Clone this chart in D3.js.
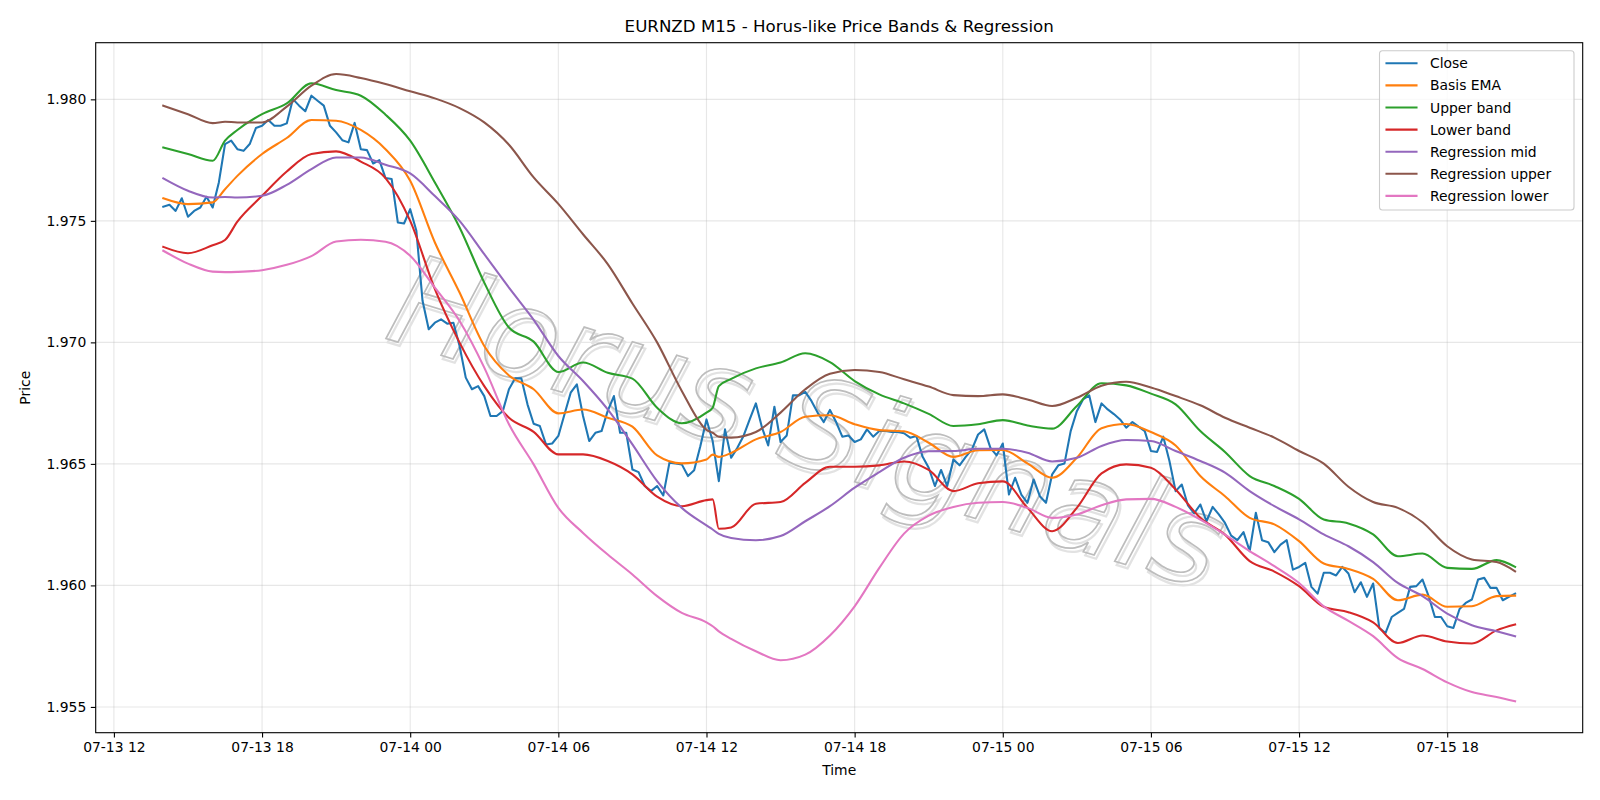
<!DOCTYPE html>
<html>
<head>
<meta charset="utf-8">
<title>EURNZD M15 - Horus-like Price Bands & Regression</title>
<script src="https://cdn.jsdelivr.net/npm/d3@7"></script>
<style>
  body { margin: 0; background: #fff; }
  svg text { font-family: "DejaVu Sans", sans-serif; }
</style>
</head>
<body>
<div id="chart"></div>
<script>
// ---- data ----
const startTime = Date.UTC(2025, 6, 13, 14, 0);   // 07-13 14:00, M15 bars
const barMinutes = 15;

const closeValues = [
  1.97558, 1.97566, 1.97541, 1.97593, 1.97517, 1.97541, 1.97555, 1.97599, 1.97555, 1.97658,
  1.97816, 1.97830, 1.97795, 1.97788, 1.97816, 1.97882, 1.97891, 1.97915, 1.97891, 1.97891,
  1.97901, 1.98001, 1.97974, 1.97951, 1.98015, 1.97994, 1.97974, 1.97891, 1.97864, 1.97832,
  1.97823, 1.97903, 1.97795, 1.97791, 1.97736, 1.97750, 1.97676, 1.97672, 1.97493, 1.97489,
  1.97548, 1.97459, 1.97171, 1.97054, 1.97081, 1.97095, 1.97077, 1.97081, 1.96985, 1.96855,
  1.96807, 1.96820, 1.96779, 1.96697, 1.96697, 1.96717, 1.96807, 1.96852, 1.96852, 1.96745,
  1.96665, 1.96656, 1.96580, 1.96584, 1.96615, 1.96704, 1.96793, 1.96827, 1.96697, 1.96594,
  1.96628, 1.96635, 1.96718, 1.96779, 1.96628, 1.96628, 1.96477, 1.96466, 1.96409, 1.96388,
  1.96409, 1.96370, 1.96505, 1.96502, 1.96498, 1.96450, 1.96474, 1.96573, 1.96683, 1.96594,
  1.96429, 1.96642, 1.96525, 1.96566, 1.96615, 1.96683, 1.96749, 1.96649, 1.96576, 1.96735,
  1.96590, 1.96617, 1.96782, 1.96782, 1.96796, 1.96759, 1.96711, 1.96672, 1.96722, 1.96672,
  1.96612, 1.96617, 1.96590, 1.96601, 1.96642, 1.96612, 1.96635, 1.96635, 1.96631, 1.96631,
  1.96626, 1.96608, 1.96615, 1.96530, 1.96484, 1.96409, 1.96475, 1.96409, 1.96518, 1.96494,
  1.96529, 1.96560, 1.96621, 1.96642, 1.96566, 1.96535, 1.96584, 1.96374, 1.96443, 1.96374,
  1.96340, 1.96436, 1.96367, 1.96340, 1.96457, 1.96494, 1.96502, 1.96635, 1.96717, 1.96765,
  1.96782, 1.96672, 1.96749, 1.96724, 1.96705, 1.96683, 1.96649, 1.96672, 1.96653, 1.96635,
  1.96553, 1.96549, 1.96612, 1.96512, 1.96388, 1.96415, 1.96329, 1.96296, 1.96333, 1.96264,
  1.96323, 1.96292, 1.96257, 1.96205, 1.96186, 1.96219, 1.96141, 1.96299, 1.96186, 1.96178,
  1.96137, 1.96168, 1.96186, 1.96065, 1.96076, 1.96093, 1.95994, 1.95966, 1.96052, 1.96052,
  1.96041, 1.96076, 1.96049, 1.95972, 1.96013, 1.95953, 1.96008, 1.95825, 1.95804, 1.95870,
  1.95887, 1.95903, 1.95994, 1.95997, 1.96024, 1.95955, 1.95870, 1.95870, 1.95832, 1.95825,
  1.95903, 1.95928, 1.95942, 1.96024, 1.96031, 1.95990, 1.95990, 1.95939, 1.95953, 1.95966
];

// smooth lines were read about once per hour (bar indices below), plus a few
// extra bars where the bands turn sharply
const bandBars = [
  0, 4, 8, 10, 12, 16, 20, 24, 28, 32, 36, 40, 44, 48, 52, 56, 60, 64, 68, 72,
  76, 80, 84, 88, 89, 90, 92, 96, 100, 104, 108, 112, 116, 120, 124, 128, 132, 136, 140, 144,
  148, 152, 156, 160, 164, 168, 172, 176, 180, 184, 188, 192, 196, 200, 204, 208, 212, 216, 219
];

const basisEma = [
  1.97593, 1.97569, 1.97576, 1.97630, 1.97685, 1.97775, 1.97841, 1.97915, 1.97912, 1.97874,
  1.97795, 1.97665, 1.97411, 1.97205, 1.96985, 1.96864, 1.96807, 1.96708, 1.96724, 1.96690,
  1.96653, 1.96535, 1.96502, 1.96518, 1.96538, 1.96529, 1.96545, 1.96601, 1.96631, 1.96694,
  1.96700, 1.96663, 1.96639, 1.96634, 1.96587, 1.96529, 1.96556, 1.96557, 1.96502, 1.96443,
  1.96525, 1.96647, 1.96664, 1.96631, 1.96576, 1.96450, 1.96367, 1.96278, 1.96251, 1.96182,
  1.96090, 1.96068, 1.96027, 1.95939, 1.95962, 1.95912, 1.95914, 1.95956, 1.95958
];
const upperBand = [
  1.97802, 1.97775, 1.97747, 1.97830, 1.97874, 1.97939, 1.97983, 1.98066, 1.98038, 1.98015,
  1.97937, 1.97830, 1.97658, 1.97473, 1.97246, 1.97061, 1.97003, 1.96878, 1.96917, 1.96875,
  1.96851, 1.96731, 1.96667, 1.96711, 1.96731, 1.96820, 1.96850, 1.96893, 1.96917, 1.96955,
  1.96919, 1.96841, 1.96786, 1.96749, 1.96706, 1.96656, 1.96663, 1.96680, 1.96658, 1.96645,
  1.96738, 1.96832, 1.96823, 1.96789, 1.96745, 1.96635, 1.96549, 1.96450, 1.96409, 1.96356,
  1.96271, 1.96255, 1.96210, 1.96120, 1.96131, 1.96072, 1.96068, 1.96104, 1.96076
];
const lowerBand = [
  1.97393, 1.97367, 1.97400, 1.97421, 1.97497, 1.97603, 1.97703, 1.97775, 1.97786, 1.97744,
  1.97676, 1.97500, 1.97219, 1.96999, 1.96820, 1.96690, 1.96632, 1.96539, 1.96539, 1.96512,
  1.96457, 1.96365, 1.96326, 1.96351, 1.96354, 1.96233, 1.96238, 1.96336, 1.96343, 1.96422,
  1.96488, 1.96488, 1.96494, 1.96510, 1.96475, 1.96388, 1.96420, 1.96428, 1.96319, 1.96223,
  1.96319, 1.96461, 1.96498, 1.96484, 1.96395, 1.96278, 1.96209, 1.96100, 1.96057, 1.95997,
  1.95912, 1.95890, 1.95848, 1.95763, 1.95794, 1.95769, 1.95761, 1.95815, 1.95839
];
const regressionMid = [
  1.97675, 1.97624, 1.97596, 1.97598, 1.97596, 1.97603, 1.97648, 1.97713, 1.97761, 1.97761,
  1.97731, 1.97695, 1.97602, 1.97500, 1.97363, 1.97225, 1.97093, 1.96944, 1.96841, 1.96724,
  1.96580, 1.96429, 1.96319, 1.96247, 1.96230, 1.96212, 1.96195, 1.96186, 1.96203, 1.96264,
  1.96326, 1.96402, 1.96466, 1.96525, 1.96552, 1.96553, 1.96562, 1.96562, 1.96546, 1.96510,
  1.96525, 1.96574, 1.96598, 1.96594, 1.96553, 1.96512, 1.96464, 1.96388, 1.96326, 1.96272,
  1.96210, 1.96161, 1.96096, 1.96010, 1.95956, 1.95884, 1.95836, 1.95811, 1.95791
];
const regressionUpper = [
  1.97974, 1.97939, 1.97902, 1.97908, 1.97905, 1.97905, 1.97970, 1.98056, 1.98104, 1.98088,
  1.98063, 1.98033, 1.98004, 1.97964, 1.97905, 1.97813, 1.97679, 1.97570, 1.97445, 1.97322,
  1.97160, 1.97000, 1.96800, 1.96640, 1.96628, 1.96612, 1.96608, 1.96631, 1.96711, 1.96807,
  1.96871, 1.96886, 1.96878, 1.96848, 1.96818, 1.96783, 1.96779, 1.96786, 1.96765, 1.96738,
  1.96772, 1.96822, 1.96838, 1.96814, 1.96779, 1.96741, 1.96690, 1.96649, 1.96608, 1.96553,
  1.96501, 1.96406, 1.96343, 1.96319, 1.96260, 1.96161, 1.96107, 1.96096, 1.96058
];
const regressionLower = [
  1.97377, 1.97324, 1.97291, 1.97289, 1.97290, 1.97297, 1.97319, 1.97355, 1.97415, 1.97422,
  1.97414, 1.97356, 1.97225, 1.97088, 1.96896, 1.96663, 1.96498, 1.96319, 1.96216, 1.96127,
  1.96045, 1.95956, 1.95887, 1.95848, 1.95832, 1.95811, 1.95780, 1.95729, 1.95692, 1.95715,
  1.95794, 1.95914, 1.96072, 1.96213, 1.96287, 1.96323, 1.96340, 1.96343, 1.96319, 1.96278,
  1.96292, 1.96330, 1.96354, 1.96356, 1.96323, 1.96271, 1.96209, 1.96141, 1.96079, 1.96010,
  1.95914, 1.95854, 1.95791, 1.95701, 1.95656, 1.95601, 1.95561, 1.95541, 1.95523
];

const yTickValues = [1.955, 1.960, 1.965, 1.970, 1.975, 1.980];
const chartTitle = 'EURNZD M15 - Horus-like Price Bands & Regression';
const watermarkText = 'Horus Signals';

// ---- layout (matplotlib-like figure, 1600x800) ----
const config = {
  width: 1600,
  height: 800,
  axLeft: 95.7,
  axRight: 1582.7,
  axTop: 42.7,
  axBottom: 732.7,
  fontSize: 13.9,
  lineWidth: 2.08
};

const barTime = i => new Date(startTime + i * barMinutes * 60000);

const series = [
  {name: 'Close', color: '#1f77b4', points: closeValues.map((v, i) => ({t: barTime(i), v})), smooth: false},
  {name: 'Basis EMA', color: '#ff7f0e', values: basisEma},
  {name: 'Upper band', color: '#2ca02c', values: upperBand},
  {name: 'Lower band', color: '#d62728', values: lowerBand},
  {name: 'Regression mid', color: '#9467bd', values: regressionMid},
  {name: 'Regression upper', color: '#8c564b', values: regressionUpper},
  {name: 'Regression lower', color: '#e377c2', values: regressionLower}
];
series.forEach(s => {
  if (!s.points) {
    s.points = s.values.map((v, k) => ({t: barTime(bandBars[k]), v}));
    s.smooth = true;
  }
});

const svg = d3.select('#chart').append('svg')
    .attr('width', config.width)
    .attr('height', config.height);

// 5% margins like matplotlib autoscale
const t0 = barTime(0), t1 = barTime(closeValues.length - 1);
const tPad = (t1 - t0) * 0.05;
const allValues = series.flatMap(s => s.points.map(p => p.v));
const [vMin, vMax] = d3.extent(allValues);
const vPad = (vMax - vMin) * 0.05;

const x = d3.scaleUtc()
    .domain([new Date(+t0 - tPad), new Date(+t1 + tPad)])
    .range([config.axLeft, config.axRight]);
const y = d3.scaleLinear()
    .domain([vMin - vPad, vMax + vPad])
    .range([config.axBottom, config.axTop]);

const xTicks = x.ticks(d3.utcHour.every(6));

// grid
const grid = svg.append('g').attr('class', 'grid')
    .attr('stroke', '#b0b0b0').attr('stroke-opacity', 0.3).attr('stroke-width', 1.1);
grid.selectAll('.gx').data(xTicks).join('line')
    .attr('x1', d => x(d)).attr('x2', d => x(d))
    .attr('y1', config.axTop).attr('y2', config.axBottom);
grid.selectAll('.gy').data(yTickValues).join('line')
    .attr('y1', d => y(d)).attr('y2', d => y(d))
    .attr('x1', config.axLeft).attr('x2', config.axRight);

// watermark: outlined italic letters with a soft offset copy
const wm = svg.append('g')
    .attr('transform', 'translate(808,420) rotate(17)')
    .attr('font-size', 126)
    .attr('font-style', 'italic')
    .attr('text-anchor', 'middle')
    .attr('fill', 'none');
wm.append('text').attr('dx', 3).attr('dy', 3).attr('y', '0.36em')
    .attr('stroke', '#e2e2e2').attr('stroke-width', 2.2)
    .text(watermarkText);
wm.append('text').attr('y', '0.36em')
    .attr('stroke', '#bdbdbd').attr('stroke-width', 1.7)
    .text(watermarkText);

// lines
svg.append('clipPath').attr('id', 'ax-clip').append('rect')
    .attr('x', config.axLeft).attr('y', config.axTop)
    .attr('width', config.axRight - config.axLeft).attr('height', config.axBottom - config.axTop);

const plot = svg.append('g').attr('clip-path', 'url(#ax-clip)');
const rawLine = d3.line().x(d => x(d.t)).y(d => y(d.v));
const smoothLine = d3.line().x(d => x(d.t)).y(d => y(d.v)).curve(d3.curveMonotoneX);

plot.selectAll('.series').data(series).join('path')
    .attr('class', 'series')
    .attr('fill', 'none')
    .attr('stroke', d => d.color)
    .attr('stroke-width', config.lineWidth)
    .attr('stroke-linejoin', 'round')
    .attr('stroke-linecap', 'square')
    .attr('d', d => d.smooth ? smoothLine(d.points) : rawLine(d.points));

// axes
const xAxis = svg.append('g')
    .attr('transform', `translate(0,${config.axBottom})`)
    .call(d3.axisBottom(x).tickValues(xTicks).tickFormat(d3.utcFormat('%m-%d %H'))
      .tickSize(4.9).tickPadding(4.5).tickSizeOuter(0));
const yAxis = svg.append('g')
    .attr('transform', `translate(${config.axLeft},0)`)
    .call(d3.axisLeft(y).tickValues(yTickValues).tickFormat(d3.format('.3f'))
      .tickSize(4.9).tickPadding(4.5).tickSizeOuter(0));
[xAxis, yAxis].forEach(ax => {
  ax.select('.domain').remove();
  ax.selectAll('.tick line').attr('stroke', '#000').attr('stroke-width', 1.1);
  ax.selectAll('.tick text').attr('fill', '#000')
      .attr('font-size', config.fontSize)
      .attr('font-family', '"DejaVu Sans", sans-serif');
});

// spines
svg.append('rect')
    .attr('x', config.axLeft).attr('y', config.axTop)
    .attr('width', config.axRight - config.axLeft).attr('height', config.axBottom - config.axTop)
    .attr('fill', 'none').attr('stroke', '#000').attr('stroke-width', 1.1);

// titles
const axMid = (config.axLeft + config.axRight) / 2;
svg.append('text')
    .attr('x', axMid).attr('y', 31.5)
    .attr('text-anchor', 'middle')
    .attr('font-size', 16.67)
    .text(chartTitle);
svg.append('text')
    .attr('x', axMid).attr('y', 775)
    .attr('text-anchor', 'middle')
    .attr('font-size', config.fontSize)
    .text('Time');
svg.append('text')
    .attr('transform', `translate(30,${(config.axTop + config.axBottom) / 2}) rotate(-90)`)
    .attr('text-anchor', 'middle')
    .attr('font-size', config.fontSize)
    .text('Price');

// legend
const legend = svg.append('g').attr('transform', 'translate(1379.5,50.7)');
legend.append('rect')
    .attr('width', 194.5).attr('height', 159.3)
    .attr('rx', 3).attr('ry', 3)
    .attr('fill', '#fff').attr('fill-opacity', 0.8)
    .attr('stroke', '#cccccc').attr('stroke-width', 1.1);
const rows = legend.selectAll('.legend-row').data(series).join('g')
    .attr('class', 'legend-row')
    .attr('transform', (d, i) => `translate(0,${12.6 + i * 22.1})`);
rows.append('line')
    .attr('x1', 7).attr('x2', 37)
    .attr('stroke', d => d.color)
    .attr('stroke-width', config.lineWidth)
    .attr('stroke-linecap', 'square');
rows.append('text')
    .attr('x', 50.5).attr('dy', '0.36em')
    .attr('font-size', config.fontSize)
    .text(d => d.name);
</script>
</body>
</html>
